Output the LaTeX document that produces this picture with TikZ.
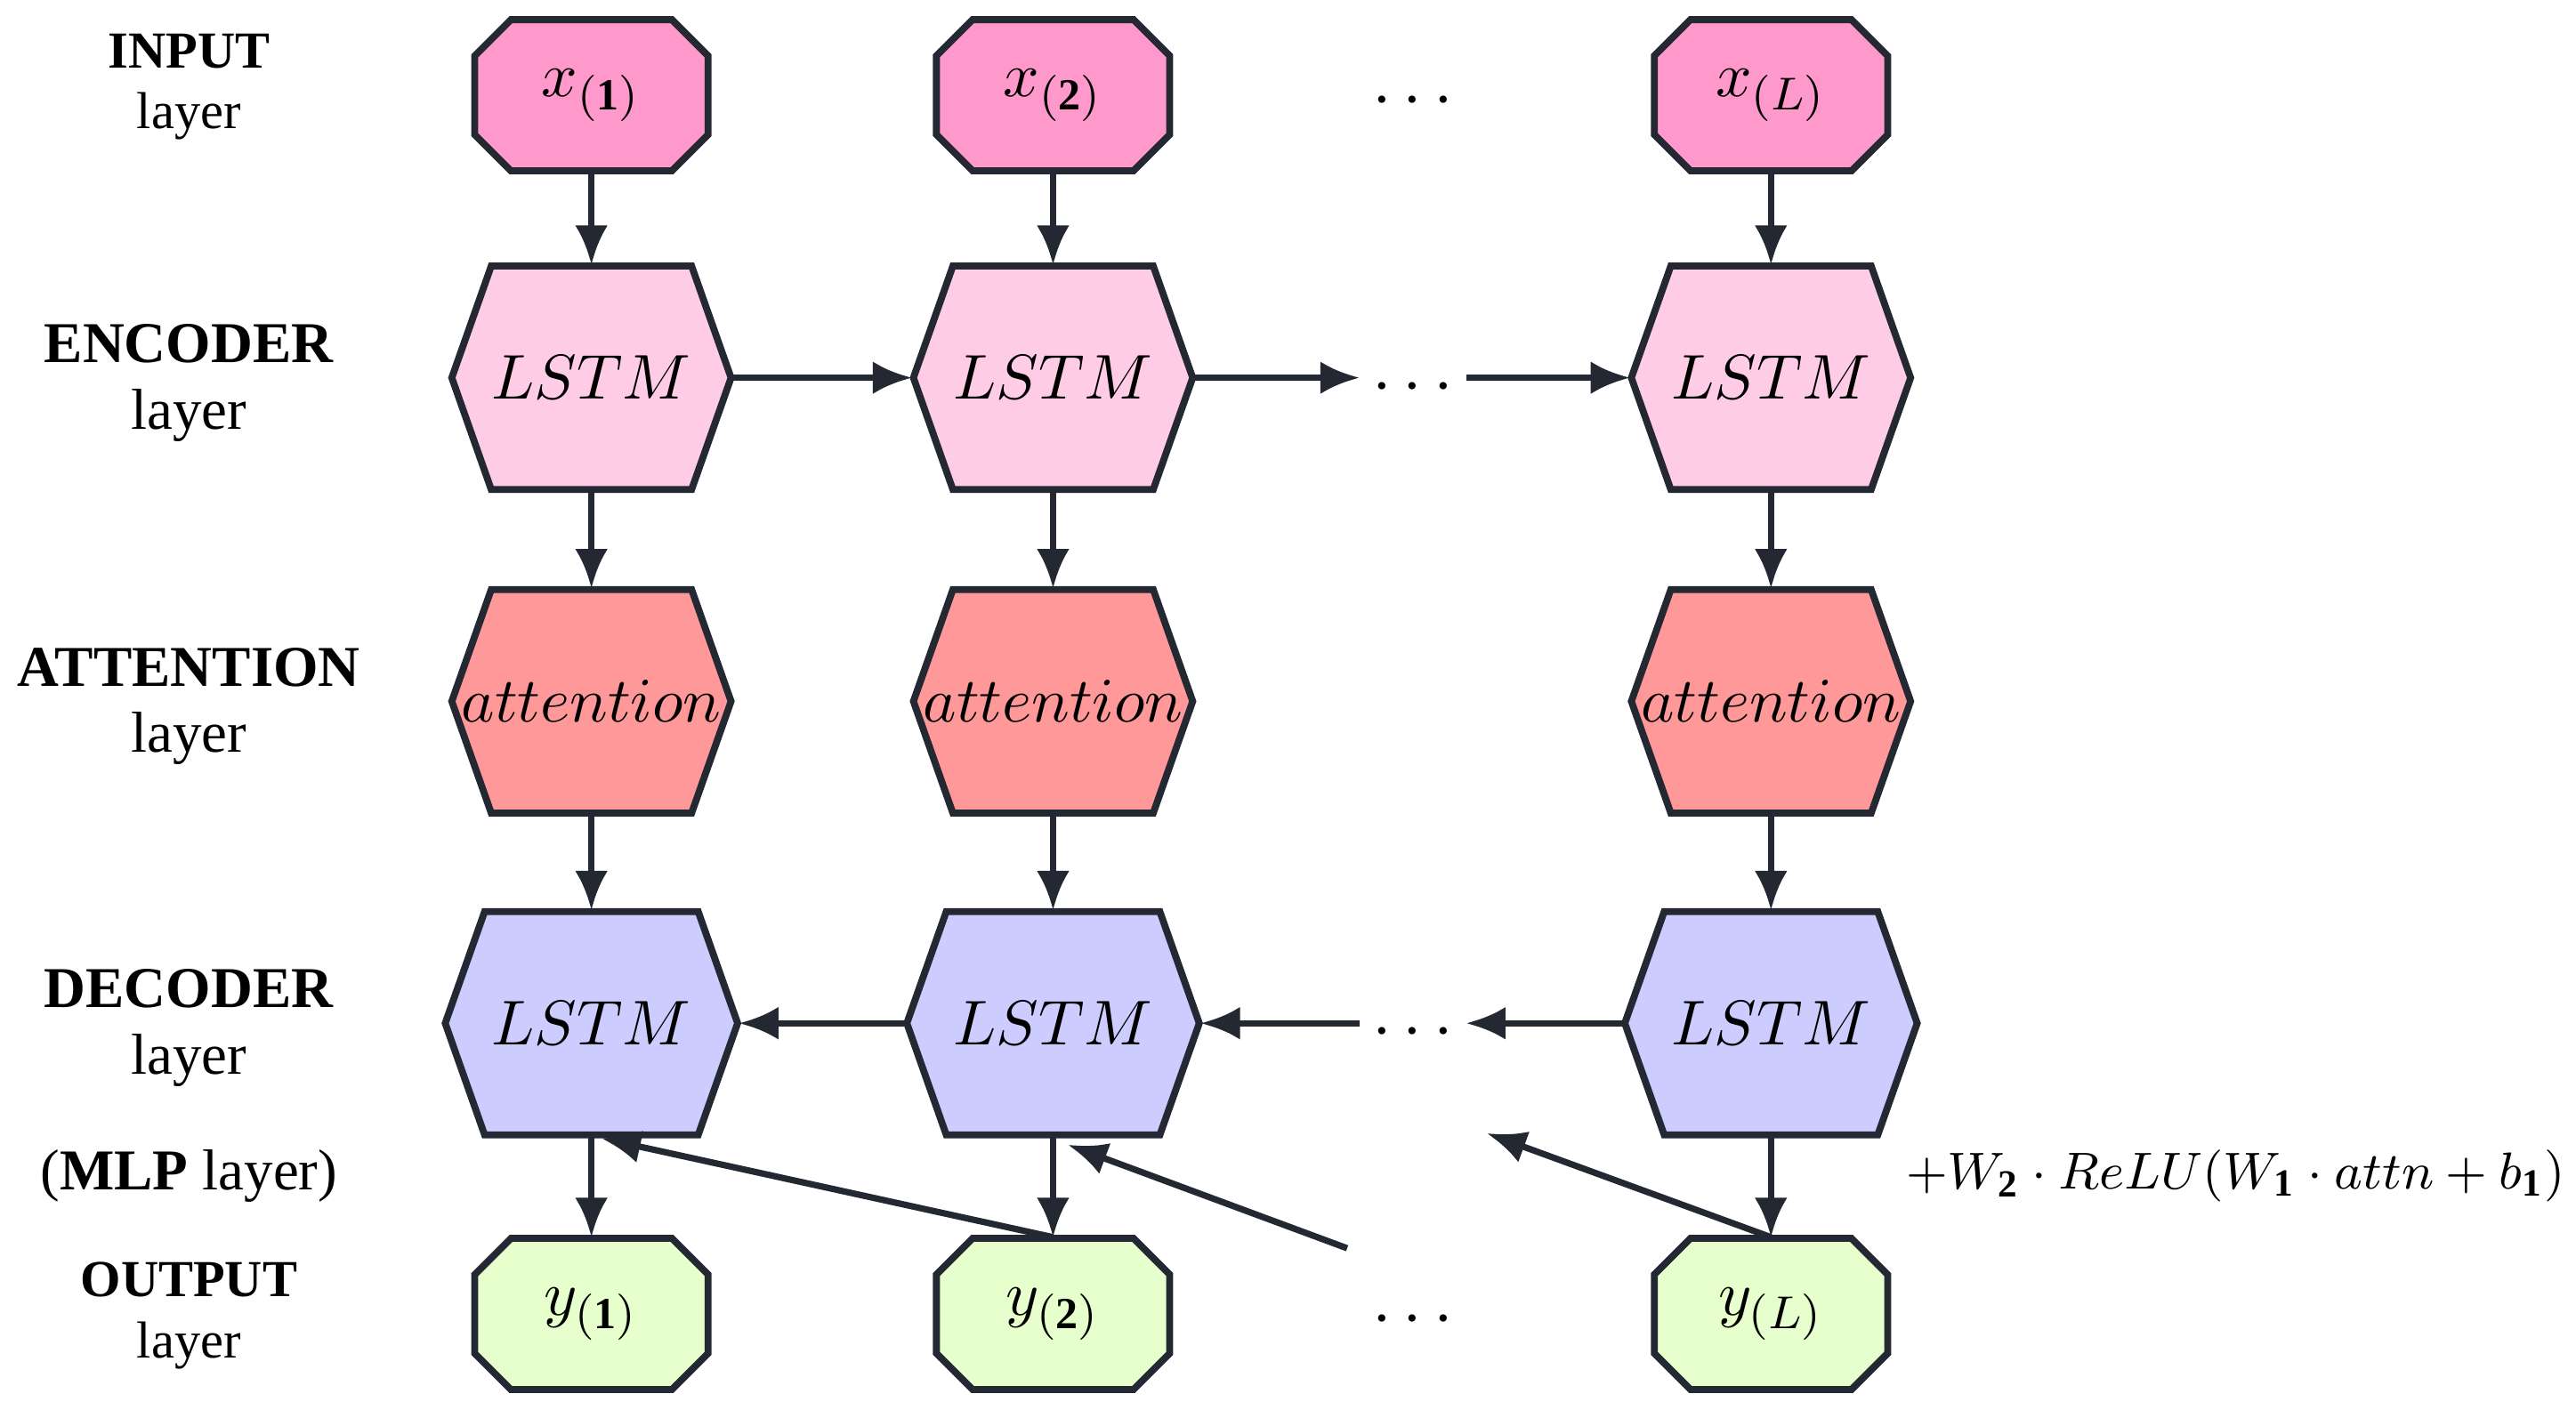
\documentclass[tikz,border=0pt]{standalone}
\usepackage{fontspec}
\setmainfont{Liberation Serif}
\usetikzlibrary{arrows.meta}

\definecolor{inpink}{RGB}{255,153,204}
\definecolor{encpink}{RGB}{255,204,230}
\definecolor{attred}{RGB}{255,153,153}
\definecolor{decblue}{RGB}{204,204,255}
\definecolor{outgreen}{RGB}{230,255,204}
\definecolor{edge}{RGB}{35,40,50}

\tikzset{
  shapeline/.style={draw=edge, line width=1.2pt},
  link/.style={draw=edge, line width=1.1pt, -{Latex[length=2.4mm,width=2mm]}},
  lbl/.style={font=\fontsize{10}{11.5}\selectfont, align=center},
  dotsnode/.style={inner sep=2pt, font=\fontsize{12}{14}\selectfont}
}

% hexagon: name, x, y, fill, text, half width
\newcommand{\hexnode}[6]{%
  \draw[shapeline, fill=#4] ({#2-#6},#3) -- ({#2-#6+24},#3-68) -- ({#2+#6-24},#3-68)
    -- ({#2+#6},#3) -- ({#2+#6-24},#3+68) -- ({#2-#6+24},#3+68) -- cycle;
  \node[inner sep=0, minimum width=#6*0.02cm, minimum height=1.36cm,
    font=\fontsize{10.5}{13}\selectfont] (#1) at (#2,#3) {$#5$};}

% octagon: name, x, y, fill, text
\newcommand{\octnode}[5]{%
  \draw[shapeline, fill=#4] ({#2-71},#3-24) -- ({#2-49},#3-46) -- ({#2+49},#3-46)
    -- ({#2+71},#3-24) -- ({#2+71},#3+24) -- ({#2+49},#3+46) -- ({#2-49},#3+46)
    -- ({#2-71},#3+24) -- cycle;
  \node[inner sep=0, minimum width=1.42cm, minimum height=0.92cm,
    font=\fontsize{11}{13}\selectfont] (#1) at (#2,#3) {$#5$};}

\begin{document}
\begin{tikzpicture}[x=0.01cm, y=-0.01cm]
\useasboundingbox (0,0) rectangle (1568,858);

% row labels
\node[lbl, font=\fontsize{9}{10.5}\selectfont] (linput) at (115,53) {\textbf{INPUT}\\layer};
\node[lbl] (lenc) at (115,233) {\textbf{ENCODER}\\layer};
\node[lbl] (latt) at (115,430) {\textbf{ATTENTION}\\layer};
\node[lbl] (ldec) at (115,626) {\textbf{DECODER}\\layer};
\node[lbl] (lmlp) at (115,716) {(\textbf{MLP} layer)};
\node[lbl, font=\fontsize{9}{10.5}\selectfont] (lout) at (115,801) {\textbf{OUTPUT}\\layer};

% nodes
\octnode{x1}{360}{58}{inpink}{x_{(\mathbf{1})}}
\octnode{x2}{641}{58}{inpink}{x_{(\mathbf{2})}}
\octnode{xL}{1078}{58}{inpink}{x_{(L)}}
\hexnode{e1}{360}{230}{encpink}{LSTM}{85}
\hexnode{e2}{641}{230}{encpink}{LSTM}{85}
\hexnode{eL}{1078}{230}{encpink}{LSTM}{85}
\hexnode{a1}{360}{427}{attred}{attention}{85}
\hexnode{a2}{641}{427}{attred}{attention}{85}
\hexnode{aL}{1078}{427}{attred}{attention}{85}
\hexnode{d1}{360}{623}{decblue}{LSTM}{89}
\hexnode{d2}{641}{623}{decblue}{LSTM}{89}
\hexnode{dL}{1078}{623}{decblue}{LSTM}{89}
\octnode{y1}{360}{800}{outgreen}{y_{(\mathbf{1})}}
\octnode{y2}{641}{800}{outgreen}{y_{(\mathbf{2})}}
\octnode{yL}{1078}{800}{outgreen}{y_{(L)}}

\node[dotsnode] (dinp) at (860,62) {$\cdots$};
\node[dotsnode] (denc) at (860,236) {$\cdots$};
\node[dotsnode] (ddec) at (860,629) {$\cdots$};
\node[dotsnode] (dout) at (860,804) {$\cdots$};

\node[font=\fontsize{9.5}{11}\selectfont, anchor=east, inner sep=0] (mlp) at (1562,716)
  {$+W_{\mathbf{2}}\cdot ReLU(W_{\mathbf{1}}\cdot attn+b_{\mathbf{1}})$};

\coordinate (c2) at (820,760);
\coordinate (cL) at (905,690);
\coordinate (t1) at (366,693);
\coordinate (t2) at (650,697);

% vertical links
\foreach \c in {1,2,L}{
  \draw[link] (x\c) -- (e\c);
  \draw[link] (e\c) -- (a\c);
  \draw[link] (a\c) -- (d\c);
  \draw[link] (d\c) -- (y\c);
}

% encoder / decoder chains
\draw[link] (e1.east) -- (e2.west);
\draw[link] (e2.east) -- (e2.east -| denc.west);
\draw[link] (eL.west -| denc.east) -- (eL.west);
\draw[link] (d2.west) -- (d1.east);
\draw[link] (d2.east -| ddec.west) -- (d2.east);
\draw[link] (dL.west) -- (dL.west -| ddec.east);

% feedback links
\draw[link] (y2.north) -- (t1);
\draw[link] (c2) -- (t2);
\draw[link] (yL.north) -- (cL);
\end{tikzpicture}
\end{document}
